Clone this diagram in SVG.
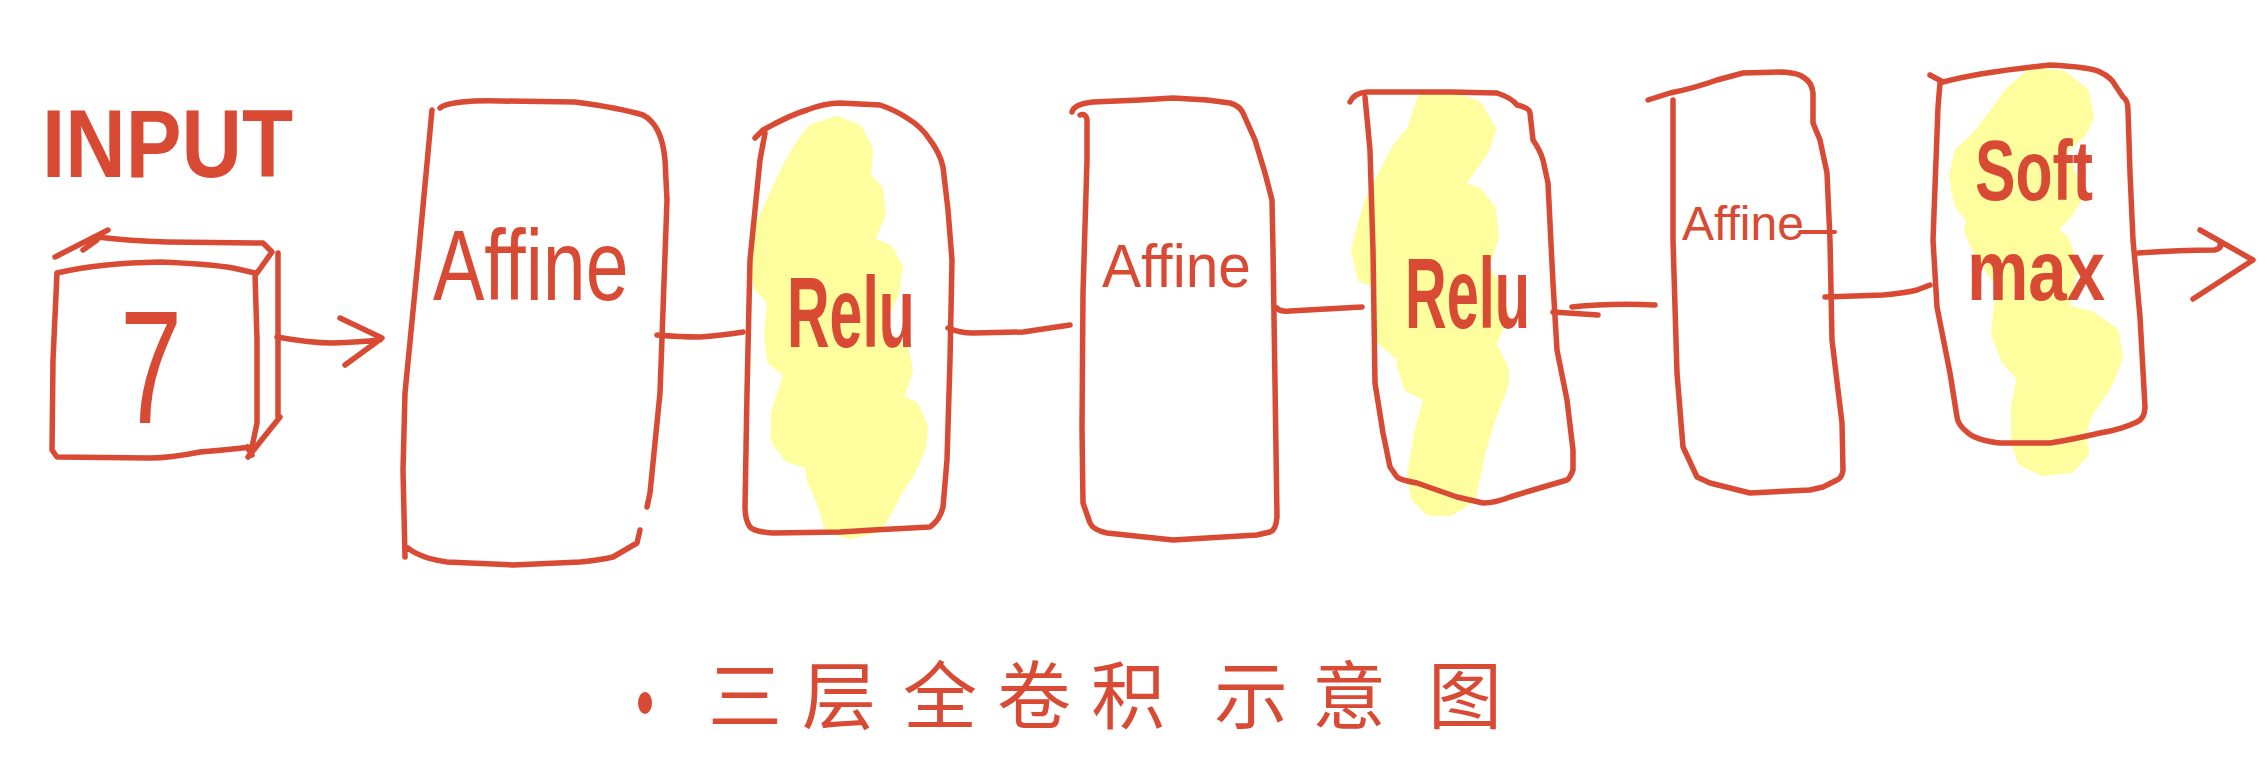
<svg xmlns="http://www.w3.org/2000/svg" width="2267" height="773" viewBox="0 0 2267 773">
<style>
.ln{fill:none;stroke:#D84A33;stroke-width:5.5;stroke-linecap:round;stroke-linejoin:round}
.hl{fill:#FFFE9F;stroke:#FFFE9F;stroke-width:12;stroke-linejoin:round}
.t{fill:#D84A33;font-family:"Liberation Sans",Arial,sans-serif;font-variant-ligatures:none}
.b{font-weight:bold}
.cn{fill:#D84A33;font-family:"Noto Sans CJK SC","Noto Sans CJK JP",sans-serif}
</style>
<rect width="2267" height="773" fill="#ffffff"/>

<g id="input">
  <text class="t b" transform="translate(42,177) scale(0.863,1)" font-size="97">INPUT</text>
  <path class="ln" d="M57,273 Q100,263 160,262 Q210,264 233,268 L255,273 L257,340 L257,423 L252,447 Q225,450 200,452 Q170,458 150,458 L57,457 L52,450 L53,360 L57,273"/>
  <path class="ln" d="M55,257 L108,230 M83,250 L97,240 M97,237 Q130,241 167,242 L263,243 L272,252 L257,273 M278,253 L278,417 M280,417 L248,457 M247,447 L252,455"/>
  <text class="t" transform="translate(120,423) scale(0.69,1)" font-size="162">7</text>
</g>

<g id="affine1">
  <path class="ln" d="M432,110 L418,260 L405,393 L403,470 L405,557 M408,548 Q420,558 447,562 L513,565 L580,562 Q600,560 613,557 L637,543 L640,530 M647,507 L650,493 L660,393 L667,200 L665,160 Q662,125 643,115 Q620,108 575,102 L500,101 Q460,100 443,106 L440,108"/>
  <text class="t" transform="translate(433,300) scale(0.77,1)" font-size="100">Affine</text>
</g>

<g id="relu1">
  <path class="hl" d="M813,130 L837,122 L857,130 L867,150 L865,177 L877,190 L880,213 L868,242 L887,250 L897,267 L893,293 L883,313 L880,337 L903,350 L907,370 L897,400 L913,407 L922,427 L920,447 L910,470 L897,490 L887,510 L877,527 L850,533 L830,527 L823,503 L813,480 L810,463 L790,457 L777,440 L777,413 L790,373 L773,360 L770,337 L773,300 L760,287 L755,267 L758,233 L773,200 L787,170 L800,147 Z"/>
  <path class="ln" d="M755,138 L763,130 Q790,115 807,110 Q825,103 840,103 L880,105 Q895,110 907,118 Q922,127 930,140 Q940,153 943,167 L948,210 L952,260 L950,360 L947,460 L943,507 Q940,520 930,527 L873,530 L840,532 L773,533 Q755,532 750,527 Q745,520 745,507 L747,393 L750,260 L760,160 L765,133"/>
  <text class="t b" transform="translate(787,347) scale(0.59,1)" font-size="100">Relu</text>
</g>

<g id="affine2">
  <path class="ln" d="M1072,112 Q1074,104 1093,102 L1140,100 L1173,98 L1207,100 L1230,103 Q1240,106 1243,113 L1255,140 L1265,173 L1272,200 L1273,250 L1275,383 L1277,517 Q1276,530 1270,532 L1257,535 L1173,540 L1107,533 Q1093,530 1090,523 L1083,503 L1082,427 L1083,293 L1087,160 L1087,120 Q1086,113 1080,115"/>
  <text class="t" transform="translate(1102,287) scale(0.946,1)" font-size="62">Affine</text>
</g>

<g id="relu2">
  <path class="hl" d="M1423,100 L1450,97 L1477,107 L1490,130 L1483,150 L1457,187 L1477,193 L1490,210 L1493,237 L1483,267 L1497,290 L1503,317 L1490,343 L1503,370 L1503,383 L1490,417 L1480,450 L1470,497 L1450,510 L1430,510 L1417,497 L1413,477 L1420,433 L1430,397 L1410,387 L1403,367 L1403,357 L1383,340 L1377,317 L1383,283 L1363,277 L1357,250 L1363,227 L1370,203 L1383,177 L1397,150 L1413,130 Z"/>
  <path class="ln" d="M1350,102 Q1354,93 1367,92 L1450,92 L1497,93 Q1512,98 1517,105 Q1530,108 1530,113 L1533,140 Q1540,150 1543,160 L1548,183 L1553,283 L1557,350 L1567,400 L1573,450 L1573,470 Q1570,478 1567,480 L1533,490 L1510,497 Q1495,503 1483,503 L1457,497 L1417,483 Q1400,480 1397,477 L1390,467 L1383,433 L1375,383 L1373,250 L1370,150 L1365,97"/>
  <text class="t b" transform="translate(1405,328) scale(0.577,1)" font-size="100">Relu</text>
</g>

<g id="affine3">
  <path class="ln" d="M1648,100 L1670,93 Q1695,88 1717,80 L1743,73 L1783,72 Q1798,73 1803,77 Q1812,82 1813,93 L1813,123 L1820,140 L1827,173 L1830,240 L1832,340 L1842,423 L1843,470 Q1842,478 1837,480 L1823,487 L1810,490 L1750,493 L1710,483 L1697,477 L1683,447 L1677,373 L1673,240 L1673,100"/>
  <text class="t" x="1682" y="240" font-size="48">Affine</text>
  <path class="ln" d="M1800,232 L1835,232" style="stroke-width:4"/>
</g>

<g id="softmax">
  <path class="hl" d="M2033,73 L2063,77 L2083,93 L2088,117 L2080,133 L2060,150 L2067,167 L2077,197 L2067,213 L2050,230 L2063,240 L2073,267 L2067,290 L2063,310 L2090,317 L2113,333 L2117,357 L2107,383 L2087,413 L2080,433 L2083,453 L2070,467 L2043,470 L2023,460 L2017,440 L2017,407 L2023,377 L2007,360 L1997,333 L2000,307 L2003,287 L1990,267 L1977,247 L1970,230 L1973,220 L1960,203 L1955,177 L1960,153 L1977,137 L1993,117 L2010,93 Z"/>
  <path class="ln" d="M1930,75 L1943,82 Q1980,72 2050,65 Q2090,67 2100,72 Q2112,78 2115,85 L2123,97 Q2128,100 2128,110 L2130,173 L2133,240 L2140,317 L2145,407 Q2145,418 2137,422 Q2120,430 2100,433 Q2070,440 2050,443 L2000,443 Q1975,440 1967,432 Q1958,425 1957,417 L1950,373 L1937,307 L1933,240 L1938,107 L1940,83"/>
  <text class="t b" transform="translate(1975,200) scale(0.714,1)" font-size="85">Soft</text>
  <text class="t b" transform="translate(1967,300) scale(0.812,1)" font-size="85">max</text>
</g>

<g id="connectors">
  <path class="ln" d="M277,337 Q310,343 333,343 Q360,342 380,340 M340,318 L382,338 L345,365"/>
  <path class="ln" d="M657,335 Q680,337 700,337 Q725,335 743,332"/>
  <path class="ln" d="M948,328 Q960,333 973,333 L1023,332 L1070,325"/>
  <path class="ln" d="M1277,308 Q1280,312 1290,311 L1362,307"/>
  <path class="ln" d="M1553,312 L1598,315 M1572,307 Q1610,303 1655,305"/>
  <path class="ln" d="M1825,297 L1883,295 Q1905,293 1917,290 L1930,285"/>
  <path class="ln" d="M2138,253 Q2180,250 2215,250 Q2222,248 2220,245 M2200,230 L2253,260 L2193,299"/>
</g>

<g id="caption">
  <ellipse cx="645" cy="703" rx="7" ry="11" fill="#D84A33"/>
  <text class="cn" y="723" font-size="74" text-anchor="middle" x="745 839 940 1034 1128 1251 1349 1465">三层全卷积示意图</text>
</g>
</svg>
